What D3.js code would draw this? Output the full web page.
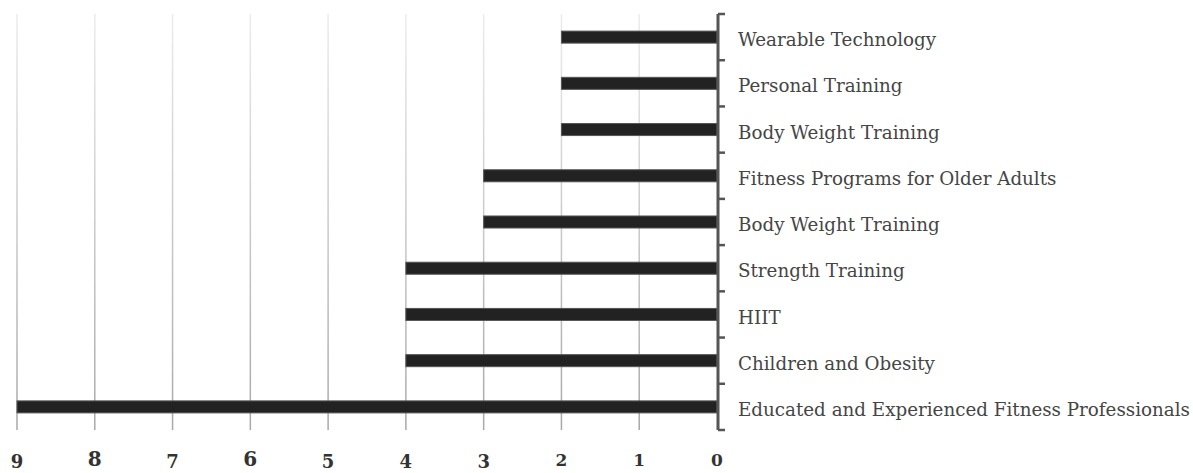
<!DOCTYPE html>
<html>
<head>
<meta charset="utf-8">
<script src="https://cdn.jsdelivr.net/npm/d3@7"></script>
<style>
  body { margin: 0; background: #fff; }
  svg { display: block; }
</style>
</head>
<body>
<svg width="1193" height="473"></svg>
<script>
// data, top to bottom
var categories = ["Wearable Technology", "Personal Training", "Body Weight Training",
    "Fitness Programs for Older Adults", "Body Weight Training ", "Strength Training",
    "HIIT", "Children and Obesity", "Educated and Experienced Fitness Professionals"];
var values = [2, 2, 2, 3, 3, 4, 4, 4, 9];
var tickValues = [9, 8, 7, 6, 5, 4, 3, 2, 1, 0];

var svg = d3.select("svg");

var x = d3.scaleLinear().domain([9, 0]).range([17, 717]);
var y = d3.scaleBand().domain(categories).range([14, 430])
    .paddingInner(0.74).paddingOuter(0.37);

var defs = svg.append("defs");
var grad = defs.append("linearGradient")
    .attr("id", "gridfade")
    .attr("gradientUnits", "userSpaceOnUse")
    .attr("x1", 0).attr("y1", 14).attr("x2", 0).attr("y2", 430);
grad.append("stop").attr("offset", "0%").attr("stop-color", "#ececec");
grad.append("stop").attr("offset", "100%").attr("stop-color", "#a8a8a8");

// gridlines
svg.append("g").selectAll("line")
    .data(tickValues.filter(d => d > 0))
    .enter().append("line")
    .attr("x1", d => x(d)).attr("x2", d => x(d))
    .attr("y1", 14).attr("y2", 430)
    .attr("stroke", "url(#gridfade)")
    .attr("stroke-width", 1.5);

// bars
svg.append("g").selectAll("rect")
    .data(values)
    .enter().append("rect")
    .attr("x", d => x(d))
    .attr("y", (d, i) => y(categories[i]))
    .attr("width", d => x(0) - x(d))
    .attr("height", y.bandwidth())
    .attr("fill", "#222")
    .attr("stroke", "#555")
    .attr("stroke-width", 1);

// category axis with ticks at band edges
var gap = (y.step() - y.bandwidth()) / 2;
var edges = categories.map(c => y(c) - gap).concat([y(categories[categories.length - 1]) + y.bandwidth() + gap]);
var axis = svg.append("g").attr("stroke", "#555");
axis.append("line")
    .attr("x1", x(0) + 1).attr("x2", x(0) + 1)
    .attr("y1", edges[0]).attr("y2", edges[edges.length - 1])
    .attr("stroke-width", 3);
axis.selectAll(".tk")
    .data(edges)
    .enter().append("line")
    .attr("class", "tk")
    .attr("x1", x(0) + 1).attr("x2", x(0) + 8)
    .attr("y1", d => d).attr("y2", d => d)
    .attr("stroke-width", 2.5);

svg.append("g").selectAll("text")
    .data(categories)
    .enter().append("text")
    .attr("x", 738)
    .attr("y", d => y(d) + y.bandwidth() / 2)
    .attr("dy", "0.5em")
    .attr("fill", "#454545")
    .style("font-family", "DejaVu Serif")
    .style("font-size", "18.3px")
    .text(d => d.trim());

// value axis labels, imitating old-style figures
var small = { 0: 1, 1: 1, 2: 1 };
var low = { 3: 1, 4: 1, 5: 1, 7: 1, 9: 1 };
svg.append("g").selectAll("text")
    .data(tickValues)
    .enter().append("text")
    .attr("x", d => x(d))
    .attr("y", d => low[d] ? 468 : 466)
    .attr("text-anchor", "middle")
    .attr("fill", "#333")
    .style("font-family", "DejaVu Serif")
    .style("font-weight", "bold")
    .style("font-size", d => small[d] ? "17px" : (low[d] ? "18px" : "20px"))
    .text(d => d);
</script>
</body>
</html>
